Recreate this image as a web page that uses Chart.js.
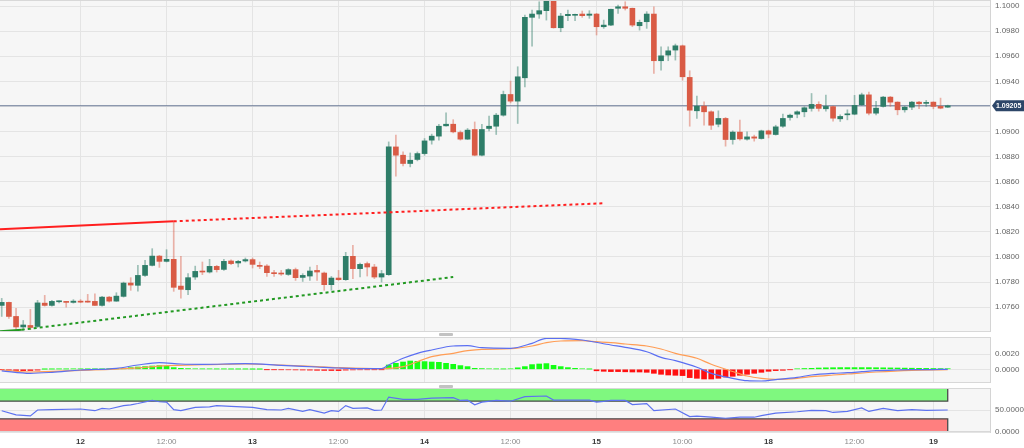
<!DOCTYPE html>
<html><head><meta charset="utf-8">
<script src="https://cdn.jsdelivr.net/npm/chart.js@4/dist/chart.umd.min.js"></script>
<style>
html,body{margin:0;padding:0;background:#fff;}
#wrap{position:relative;width:1024px;height:448px;overflow:hidden;background:#fff;}
.pane{position:absolute;left:0;width:1024px;}
.handle{position:absolute;left:439px;width:14px;height:3px;background:#c2c2c2;border-radius:1px;}
</style></head><body>
<div id="wrap">
<div class="pane" style="top:0;height:332px"><canvas id="cMain"></canvas></div>
<div class="handle" style="top:333px"></div>
<div class="pane" style="top:337px;height:46px"><canvas id="cMacd"></canvas></div>
<div class="handle" style="top:385px"></div>
<div class="pane" style="top:388px;height:60px"><canvas id="cRsi"></canvas></div>
</div>
<script>
// ---------- data ----------
const open = [1.07614,1.07638,1.07526,1.07442,1.07454,1.07446,1.07632,1.07614,1.07643,1.07643,1.07638,1.07648,1.07648,1.07646,1.07614,1.07680,1.07648,1.07686,1.07792,1.07774,1.07853,1.07933,1.08007,1.07965,1.07981,1.07768,1.07739,1.07840,1.07888,1.07880,1.07925,1.07901,1.07968,1.07952,1.07968,1.07979,1.07933,1.07928,1.07875,1.07872,1.07861,1.07899,1.07837,1.07848,1.07893,1.07872,1.07779,1.07832,1.07819,1.08005,1.07907,1.07947,1.07920,1.07840,1.07859,1.08877,1.08811,1.08745,1.08777,1.08824,1.08931,1.08963,1.09045,1.09058,1.08992,1.08939,1.09016,1.08811,1.09024,1.09042,1.09130,1.09295,1.09242,1.09428,1.09910,1.09936,1.09963,1.10040,1.09827,1.09923,1.09926,1.09936,1.09926,1.09936,1.09835,1.09848,1.09982,1.09994,1.09982,1.09843,1.09875,1.09936,1.09564,1.09609,1.09649,1.09683,1.09431,1.09165,1.09202,1.09157,1.09058,1.09104,1.08936,1.08995,1.08939,1.08957,1.08944,1.09005,1.08976,1.09042,1.09112,1.09138,1.09157,1.09184,1.09216,1.09181,1.09198,1.09101,1.09133,1.09138,1.09213,1.09292,1.09146,1.09200,1.09274,1.09234,1.09173,1.09194,1.09234,1.09224,1.09234,1.09200,1.09194];
const high = [1.07670,1.07640,1.07590,1.07494,1.07582,1.07654,1.07694,1.07654,1.07650,1.07646,1.07660,1.07660,1.07702,1.07707,1.07686,1.07686,1.07715,1.07800,1.07835,1.07933,1.07973,1.08066,1.08013,1.08058,1.08284,1.08005,1.07867,1.07927,1.07960,1.07981,1.07933,1.07981,1.07978,1.07973,1.07992,1.07992,1.07960,1.07939,1.07893,1.07893,1.07907,1.07912,1.07867,1.07920,1.07933,1.07880,1.07845,1.07893,1.08037,1.08093,1.07952,1.07960,1.07941,1.07893,1.08917,1.08971,1.08837,1.08829,1.08837,1.08944,1.08979,1.09058,1.09149,1.09094,1.09005,1.09024,1.09076,1.09058,1.09122,1.09144,1.09322,1.09402,1.09516,1.09928,1.09968,1.10034,1.10060,1.10060,1.09942,1.09968,1.09936,1.09960,1.09963,1.09942,1.09888,1.09976,1.10008,1.10034,1.09984,1.09888,1.09955,1.09994,1.09675,1.09675,1.09697,1.09689,1.09484,1.09282,1.09237,1.09165,1.09165,1.09112,1.09005,1.09090,1.08997,1.08971,1.09011,1.09011,1.09050,1.09138,1.09138,1.09165,1.09197,1.09303,1.09237,1.09290,1.09202,1.09133,1.09173,1.09288,1.09306,1.09314,1.09240,1.09280,1.09280,1.09237,1.09200,1.09240,1.09240,1.09248,1.09237,1.09266,1.09210];
const low = [1.07526,1.07510,1.07415,1.07415,1.07422,1.07438,1.07608,1.07608,1.07634,1.07600,1.07632,1.07635,1.07639,1.07613,1.07608,1.07640,1.07646,1.07680,1.07734,1.07728,1.07845,1.07928,1.07917,1.07960,1.07726,1.07672,1.07699,1.07821,1.07859,1.07872,1.07880,1.07893,1.07939,1.07920,1.07960,1.07912,1.07907,1.07845,1.07845,1.07853,1.07853,1.07813,1.07805,1.07813,1.07813,1.07734,1.07734,1.07813,1.07813,1.07827,1.07840,1.07848,1.07827,1.07800,1.07853,1.08643,1.08726,1.08718,1.08766,1.08811,1.08899,1.08931,1.09042,1.08989,1.08931,1.08936,1.08806,1.08806,1.09005,1.08976,1.09122,1.09228,1.09064,1.09356,1.09681,1.09902,1.09888,1.09824,1.09795,1.09883,1.09883,1.09910,1.09902,1.09769,1.09822,1.09843,1.09942,1.09968,1.09835,1.09808,1.09822,1.09463,1.09489,1.09564,1.09569,1.09409,1.09042,1.09104,1.09050,1.09016,1.09037,1.08883,1.08899,1.08931,1.08931,1.08923,1.08939,1.08949,1.08971,1.09032,1.09090,1.09109,1.09117,1.09162,1.09162,1.09162,1.09082,1.09080,1.09093,1.09133,1.09208,1.09133,1.09133,1.09194,1.09200,1.09133,1.09154,1.09173,1.09181,1.09200,1.09181,1.09181,1.09191];
const close = [1.07638,1.07526,1.07442,1.07458,1.07438,1.07634,1.07614,1.07646,1.07644,1.07638,1.07648,1.07640,1.07640,1.07614,1.07680,1.07648,1.07688,1.07792,1.07776,1.07853,1.07933,1.08007,1.07965,1.07981,1.07758,1.07742,1.07835,1.07885,1.07880,1.07925,1.07899,1.07965,1.07947,1.07965,1.07979,1.07941,1.07925,1.07875,1.07867,1.07864,1.07899,1.07835,1.07853,1.07888,1.07880,1.07779,1.07832,1.07819,1.08005,1.07907,1.07941,1.07920,1.07840,1.07867,1.08877,1.08811,1.08745,1.08771,1.08824,1.08925,1.08963,1.09042,1.09058,1.08997,1.08939,1.09011,1.08811,1.09016,1.09042,1.09130,1.09295,1.09242,1.09436,1.09910,1.09936,1.09963,1.10040,1.09827,1.09920,1.09934,1.09934,1.09923,1.09936,1.09835,1.09848,1.09974,1.09994,1.09982,1.09848,1.09870,1.09936,1.09564,1.09603,1.09643,1.09683,1.09436,1.09170,1.09202,1.09157,1.09050,1.09104,1.08936,1.08995,1.08941,1.08957,1.08947,1.09005,1.08979,1.09037,1.09104,1.09130,1.09157,1.09189,1.09216,1.09184,1.09200,1.09106,1.09120,1.09141,1.09208,1.09292,1.09146,1.09186,1.09274,1.09234,1.09173,1.09194,1.09234,1.09221,1.09232,1.09200,1.09186,1.09205];

const priceTicks = [1.076,1.078,1.080,1.082,1.084,1.086,1.088,1.090,1.092,1.094,1.096,1.098,1.100];
const timeTickIdx = [11,23,35,47,59,71,83,95,107,119,130];
const timeTickText = ['12','12:00','13','12:00','14','12:00','15','10:00','18','12:00','19'];

// trend lines (x = candle index)
const resSolidX = [-0.24, 24], resSolidY = [1.08220, 1.08284];
const resDotX = [24, 84], resDotY = [1.08284, 1.08428];
const supSolidX = [-0.24, 2.8], supSolidY = [1.07407, 1.07420];
const supDotX = [2.8, 63], supDotY = [1.07420, 1.07840];

// MACD
const macdHist = [-0.000039,-0.000105,-0.000157,-0.00017,-0.000157,-0.000105,0.000013,0.000026,0.000039,0.000039,0.000052,0.000052,0.000065,0.000065,0.000065,0.000078,0.000091,0.000118,0.000222,0.0003,0.000353,0.000431,0.000484,0.000431,0.000222,0.000131,0.000091,0.000065,0.000052,0.000052,0.000039,0.000039,0.000026,0.000026,0.000026,0.000013,0.000013,-0.000026,-0.000039,-0.000052,-0.000065,-0.000078,-0.000091,-0.000105,-0.000131,-0.000144,-0.000157,-0.00017,-0.000105,-0.000078,-0.000065,-0.000052,-0.000039,-0.000026,0.000562,0.000784,0.000954,0.001085,0.001046,0.001006,0.000954,0.000915,0.000784,0.000654,0.000484,0.000353,0.000131,0.000091,0.000065,0.000052,0.000039,0.000065,0.000196,0.000353,0.000614,0.000693,0.000745,0.000523,0.000353,0.000222,0.000131,0.000065,0.000026,-0.000196,-0.000261,-0.0003,-0.0003,-0.000327,-0.000353,-0.000353,-0.000392,-0.000523,-0.000654,-0.000745,-0.000784,-0.000823,-0.001085,-0.001176,-0.001268,-0.001268,-0.001176,-0.001006,-0.000915,-0.000784,-0.000654,-0.000523,-0.000392,-0.000261,-0.00017,-0.000131,-0.000039,0.000065,0.000105,0.000131,0.00017,0.000196,0.000209,0.000222,0.000222,0.000222,0.000222,0.000222,0.000209,0.000196,0.000183,0.00017,0.000157,0.000144,0.000131,0.000118,0.000105,0.000091,0.000078];
const macdIdx = [0,4,7,11,16,19,22,25,28,34,39,44,47,51,53,54,56,58,60,63,65,67,71,74,76,78,81,85,87,90,92,94,97,99,102,104,106,108,111,113,116,118,120,122,125,127,129,132];
const macdVal = [-0.000196,-0.000523,-0.000392,-0.000091,0.000131,0.000562,0.000863,0.000693,0.000654,0.000732,0.000523,0.000301,0.00017,0.000078,0.000078,0.000562,0.001438,0.002091,0.002523,0.003045,0.003085,0.002823,0.002745,0.003398,0.004052,0.004052,0.00383,0.003176,0.002875,0.0023,0.001568,0.001124,0.000261,-0.000523,-0.001176,-0.00149,-0.001529,-0.00135,-0.001046,-0.000745,-0.000523,-0.000444,-0.000314,-0.000183,-0.000091,-0.000052,-0.000052,0];
const sigIdx = [0,4,11,18,23,28,34,39,46,53,56,58,60,63,65,67,71,74,76,78,81,83,85,87,90,92,94,97,99,102,104,106,108,111,113,116,118,122,127,132];
const sigVal = [-0.000091,-0.000353,-0.000131,0.000131,0.00047,0.000601,0.000693,0.000562,0.000261,0.000078,0.00034,0.000993,0.001647,0.002091,0.002431,0.002614,0.002692,0.003045,0.003477,0.003699,0.003738,0.003607,0.003477,0.003307,0.003045,0.002653,0.002091,0.001438,0.000654,-0.000288,-0.000876,-0.001176,-0.001307,-0.001176,-0.000967,-0.000745,-0.000614,-0.000353,-0.000131,-0.00004];
const macdTicks = [0, 0.002];

// RSI
const rsiIdx = [0,2,4,5,7,11,13,14,15,17,18,19,21,22,23,24,25,27,29,30,32,35,37,39,40,42,43,45,46,47,48,49,51,52,53,54,56,58,60,63,64,65,66,67,69,71,73,76,77,79,82,83,84,85,87,88,90,91,94,96,97,99,101,103,105,106,108,111,113,115,116,118,120,121,123,125,127,129,132];
const rsiVal = [48.4,39,36.7,50,50.7,52.3,48.4,53.7,52.3,60,61.7,64.7,71.7,68.7,67.8,50.7,48.4,56,57,60,58.4,56,50.7,50,53.7,46.7,50.7,43,48.4,46.7,60,53.7,54.7,49,50,79.4,74,74,77.1,78,71.7,72.4,61.7,67.8,71.7,70,80.4,81.8,72.4,72.4,72.4,67.8,69.4,71.7,71.7,62.4,64.7,48.4,52.3,35,36,33.6,31.3,33.6,33.6,37.4,43,46,49,48.4,44.4,46.7,54.7,46.7,53.7,48.4,50.7,49,50];
const rsiTicks = [0, 50];
const rsiUpper = [70, 100], rsiLower = [0, 30];

// ---------- styling ----------
function pickFont(){
  const c = document.createElement('canvas').getContext('2d');
  c.font = '20px monospace'; const a = c.measureText('1.09205 abc').width;
  c.font = '20px "Liberation Sans Narrow", monospace'; const b = c.measureText('1.09205 abc').width;
  return Math.abs(a-b) > 0.5 ? {fam:'"Liberation Sans Narrow"', size:9} : {fam:'"Liberation Sans"', size:8};
}
const F = pickFont(); const FAM = F.fam, FS = F.size;
Chart.defaults.font.family = FAM;
Chart.defaults.font.size = FS;

const UP = '#2e7d68', DOWN = '#d95b45';
const UPW = 'rgba(46,125,104,0.45)', DOWNW = 'rgba(217,91,69,0.45)';
const GRID = '#e4e4e4';
const X_MIN = -0.24, X_MAX = 137.9;
const lastIdx = close.length - 1;
const lastPrice = close[lastIdx];

const pts = (xs, ys) => xs.map((x,i)=>({x, y: ys[i]}));
const isDayTick = v => { const k = timeTickIdx.indexOf(v); return k >= 0 && timeTickText[k].indexOf(':') < 0; };

function xAxis(showLabels){
  return {
    type:'linear', min:X_MIN, max:X_MAX, offset:false,
    afterBuildTicks(s){ s.ticks = timeTickIdx.map(v=>({value:v})); },
    afterFit(s){ s.height = showLabels ? 16 : 0; s.paddingLeft = 0; s.paddingRight = 0; },
    grid:{color:GRID, drawTicks:false, offset:false},
    border:{display:false},
    ticks:{display:showLabels, autoSkip:false, maxRotation:0, minRotation:0, padding:5,
      callback(v){ const k = timeTickIdx.indexOf(v); return k < 0 ? '' : timeTickText[k]; },
      font(ctx){ const v = ctx.tick ? ctx.tick.value : null; return {family:FAM, size:FS, weight: isDayTick(v) ? 'bold' : 'normal'}; },
      color(ctx){ const v = ctx.tick ? ctx.tick.value : null; return isDayTick(v) ? '#3a3a3a' : '#8c8c8c'; }
    }
  };
}
function yAxis(min, max, tickVals, fmt){
  return {
    position:'right', min, max,
    afterBuildTicks(s){ s.ticks = tickVals.map(v=>({value:v})); },
    afterFit(s){ s.width = 34; s.paddingTop = 0; s.paddingBottom = 0; },
    grid:{color:GRID, drawTicks:false},
    border:{display:true, color:'#d4d4d4'},
    ticks:{padding:5, color:'#666', font:{family:FAM, size:FS}, callback:v=>fmt(v)}
  };
}
const panelBg = {
  id:'panelBg',
  beforeDraw(c){ const {ctx, chartArea:a} = c; ctx.save(); ctx.fillStyle = '#f6f6f6'; ctx.fillRect(a.left, a.top, a.width, a.height); ctx.restore(); },
  afterDraw(c){ const {ctx, chartArea:a} = c; ctx.save(); ctx.strokeStyle = '#d8d8d8'; ctx.lineWidth = 1;
    ctx.beginPath(); ctx.moveTo(a.left, a.top+0.5); ctx.lineTo(a.right, a.top+0.5); ctx.moveTo(a.left, a.bottom-0.5); ctx.lineTo(a.right, a.bottom-0.5); ctx.stroke(); ctx.restore(); }
};
const priceTag = {
  id:'priceTag',
  afterDraw(c){
    const y = c.scales.y.getPixelForValue(lastPrice), ctx = c.ctx, L = c.chartArea.right + 2, R = c.width;
    ctx.save(); ctx.fillStyle = '#2d4668';
    ctx.beginPath(); ctx.moveTo(L, y); ctx.lineTo(L+4, y-5.5); ctx.lineTo(R, y-5.5); ctx.lineTo(R, y+5.5); ctx.lineTo(L+4, y+5.5); ctx.closePath(); ctx.fill();
    ctx.fillStyle = '#fff'; ctx.font = 'bold ' + (FS-1) + 'px ' + FAM; ctx.textBaseline = 'middle'; ctx.textAlign = 'left';
    ctx.fillText(lastPrice.toFixed(5), L+4, y+0.5, R - L - 5); ctx.restore();
  }
};
const common = {responsive:true, maintainAspectRatio:false, animation:false, events:[],
  layout:{padding:0}, plugins:{legend:{display:false}, tooltip:{enabled:false}}};

// ---------- main chart ----------
const bodyData = open.map((o,i)=>({x:i, y:[o, close[i]]}));
const wickData = low.map((l,i)=>({x:i, y:[l, high[i]]}));
const bodyCol = open.map((o,i)=> close[i] >= o ? UP : DOWN);
const wickCol = open.map((o,i)=> close[i] >= o ? UPW : DOWNW);

new Chart(document.getElementById('cMain'), {
  type:'bar',
  data:{datasets:[
    {type:'line', data:pts(resSolidX,resSolidY), borderColor:'#ff1f1f', borderWidth:2, pointRadius:0},
    {type:'line', data:pts(resDotX,resDotY), borderColor:'#ff1f1f', borderWidth:2, borderDash:[3,3], pointRadius:0},
    {type:'line', data:pts(supSolidX,supSolidY), borderColor:'#229922', borderWidth:2, pointRadius:0},
    {type:'line', data:pts(supDotX,supDotY), borderColor:'#229922', borderWidth:2, borderDash:[3,3], pointRadius:0},
    {type:'bar', data:bodyData, backgroundColor:bodyCol, barThickness:5, grouped:false, borderWidth:0, minBarLength:1},
    {type:'bar', data:wickData, backgroundColor:wickCol, barThickness:1, grouped:false, borderWidth:0},
    {type:'line', data:[{x:X_MIN,y:lastPrice},{x:X_MAX,y:lastPrice}], borderColor:'#687896', borderWidth:1.2, pointRadius:0}
  ]},
  options:Object.assign({}, common, {scales:{
    x:xAxis(false),
    y:yAxis(1.07402, 1.10048, priceTicks, v=>v.toFixed(4))
  }}),
  plugins:[panelBg, priceTag]
});

// ---------- MACD ----------
new Chart(document.getElementById('cMacd'), {
  type:'bar',
  data:{datasets:[
    {type:'line', data:pts(macdIdx,macdVal), borderColor:'#5b6ff2', borderWidth:1.2, pointRadius:0, cubicInterpolationMode:'monotone'},
    {type:'line', data:pts(sigIdx,sigVal), borderColor:'#ff9d55', borderWidth:1.2, pointRadius:0, cubicInterpolationMode:'monotone'},
    {type:'bar', data:macdHist.map((v,i)=>({x:i,y:v})), backgroundColor:macdHist.map(v=> v>=0 ? '#14ff14' : '#ff1010'), barThickness:5, grouped:false, borderWidth:0}
  ]},
  options:Object.assign({}, common, {scales:{
    x:xAxis(false),
    y:yAxis(-0.00179, 0.004222, macdTicks, v=>v.toFixed(4))
  }}),
  plugins:[panelBg]
});

// ---------- RSI ----------
new Chart(document.getElementById('cRsi'), {
  type:'line',
  data:{datasets:[
    {data:pts(rsiIdx,rsiVal), borderColor:'#5d72f0', borderWidth:1.2, pointRadius:0},
    {data:[{x:X_MIN,y:rsiUpper[0]},{x:lastIdx,y:rsiUpper[0]},{x:lastIdx,y:rsiUpper[1]}], borderColor:'#4a4a4a', borderWidth:1.3, pointRadius:0},
    {data:[{x:X_MIN,y:rsiLower[1]},{x:lastIdx,y:rsiLower[1]},{x:lastIdx,y:rsiLower[0]}], borderColor:'#4a4a4a', borderWidth:1.3, pointRadius:0},
    {data:[{x:X_MIN,y:rsiUpper[1]},{x:lastIdx,y:rsiUpper[1]}], borderWidth:0, pointRadius:0, backgroundColor:'#7ff87f', fill:{value:rsiUpper[0]}},
    {data:[{x:X_MIN,y:rsiLower[1]},{x:lastIdx,y:rsiLower[1]}], borderWidth:0, pointRadius:0, backgroundColor:'#ff7f7f', fill:{value:rsiLower[0]}}
  ]},
  options:Object.assign({}, common, {scales:{
    x:xAxis(true),
    y:yAxis(0, 100, rsiTicks, v=>v.toFixed(4))
  }}),
  plugins:[panelBg]
});
</script>
</body></html>
